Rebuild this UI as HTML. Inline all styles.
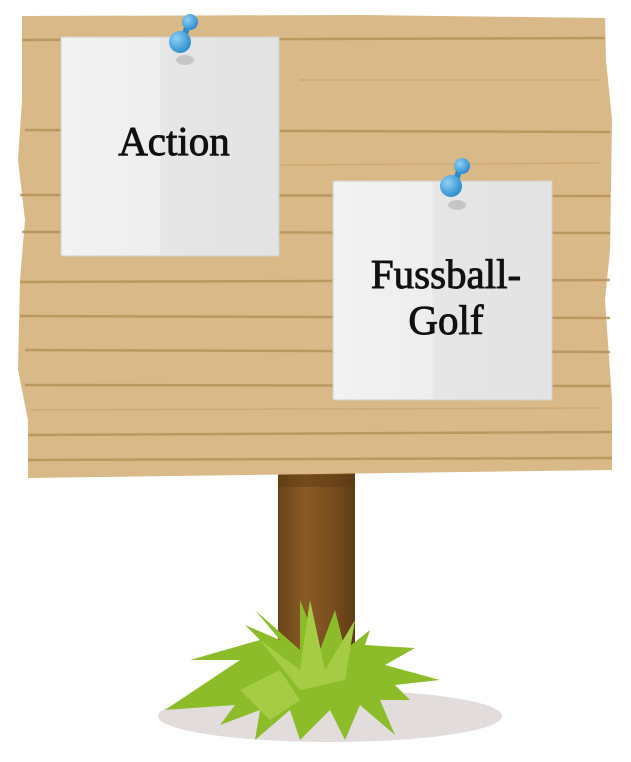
<!DOCTYPE html>
<html><head><meta charset="utf-8"><style>
html,body{margin:0;padding:0;background:#fff;width:631px;height:762px;overflow:hidden}
svg{display:block}
text{font-family:"Liberation Serif",serif;fill:#111;stroke:#111;stroke-width:0.9}
</style></head><body>
<svg width="631" height="762" viewBox="0 0 631 762" xmlns="http://www.w3.org/2000/svg">
<defs>
<linearGradient id="post" x1="0" x2="1" y1="0" y2="0">
<stop offset="0" stop-color="#6a4418"/><stop offset="0.35" stop-color="#8a5a25"/><stop offset="0.7" stop-color="#7a4e1e"/><stop offset="1" stop-color="#5e3c14"/></linearGradient>
<linearGradient id="note" x1="0" x2="1"><stop offset="0" stop-color="#f2f2f2"/><stop offset="0.45" stop-color="#eeeeee"/><stop offset="0.46" stop-color="#e6e6e6"/><stop offset="1" stop-color="#e3e3e3"/></linearGradient>
<radialGradient id="pin" cx="0.35" cy="0.35" r="0.7"><stop offset="0" stop-color="#8fd0f5"/><stop offset="1" stop-color="#2a8ccc"/></radialGradient>
</defs>
<ellipse cx="330" cy="716" rx="172" ry="26" fill="#e2dcdc"/>
<rect x="278" y="470" width="77" height="180" fill="url(#post)"/>
<rect x="278" y="475" width="77" height="12" fill="#5b3a14" opacity="0.5"/>
<path d="M22 16 L360 15 L605 18 L606 60 L612 120 L610 250 L605 300 L612 400 L612 470 L28 478 L28 420 L18 370 L20 280 L25 220 L18 160 L22 100 Z" fill="#d8b987"/>
<g stroke="#b8935a" stroke-width="2.5" opacity="0.85">
<line x1="22" y1="40" x2="605" y2="38"/>
<line x1="25" y1="130" x2="610" y2="132"/>
<line x1="20" y1="195" x2="610" y2="196"/>
<line x1="22" y1="232" x2="610" y2="233"/>
<line x1="20" y1="282" x2="610" y2="280"/>
<line x1="20" y1="316" x2="610" y2="318"/>
<line x1="25" y1="350" x2="610" y2="352"/>
<line x1="25" y1="385" x2="610" y2="386"/>
<line x1="28" y1="435" x2="612" y2="432"/>
<line x1="28" y1="460" x2="612" y2="458"/>
</g>
<g stroke="#c9a56e" stroke-width="1.5" opacity="0.7">
<line x1="300" y1="80" x2="600" y2="80"/>
<line x1="280" y1="165" x2="600" y2="163"/>
<line x1="30" y1="410" x2="600" y2="408"/>
</g>
<rect x="61" y="37" width="218" height="219" fill="url(#note)" stroke="#cfcfcf"/>
<rect x="333" y="181" width="219" height="219" fill="url(#note)" stroke="#cfcfcf"/>
<g>
<ellipse cx="185" cy="60" rx="9" ry="5" fill="#999" opacity="0.4"/>
<line x1="182" y1="45" x2="188" y2="24" stroke="#2a8ccc" stroke-width="6"/>
<circle cx="180" cy="42" r="11" fill="url(#pin)"/>
<circle cx="190" cy="22" r="8" fill="url(#pin)"/>
</g>
<g>
<ellipse cx="457" cy="205" rx="9" ry="5" fill="#999" opacity="0.4"/>
<line x1="453" y1="190" x2="460" y2="168" stroke="#2a8ccc" stroke-width="6"/>
<circle cx="451" cy="186" r="11" fill="url(#pin)"/>
<circle cx="462" cy="166" r="8" fill="url(#pin)"/>
</g>
<text x="174" y="155" font-size="41" text-anchor="middle">Action</text>
<text x="446" y="288" font-size="41" text-anchor="middle">Fussball-</text>
<text x="446" y="334" font-size="41" text-anchor="middle">Golf</text>
<g fill="#8cbc2a">
<path d="M165 710 L240 660 L190 660 L260 640 L245 625 L280 640 L255 610 L300 650 L300 600 L320 650 L335 610 L345 650 L370 630 L365 645 L415 648 L385 665 L440 680 L395 685 L410 700 L380 700 L395 735 L360 705 L345 740 L330 710 L300 740 L290 710 L255 740 L260 710 L220 725 L235 705 Z"/>
</g>
<g fill="#a6cc45">
<path d="M260 640 L300 670 L310 600 L325 670 L355 620 L345 680 L300 690 Z"/>
<path d="M240 690 L280 670 L300 700 L270 720 Z"/>
</g>
</svg>
</body></html>
